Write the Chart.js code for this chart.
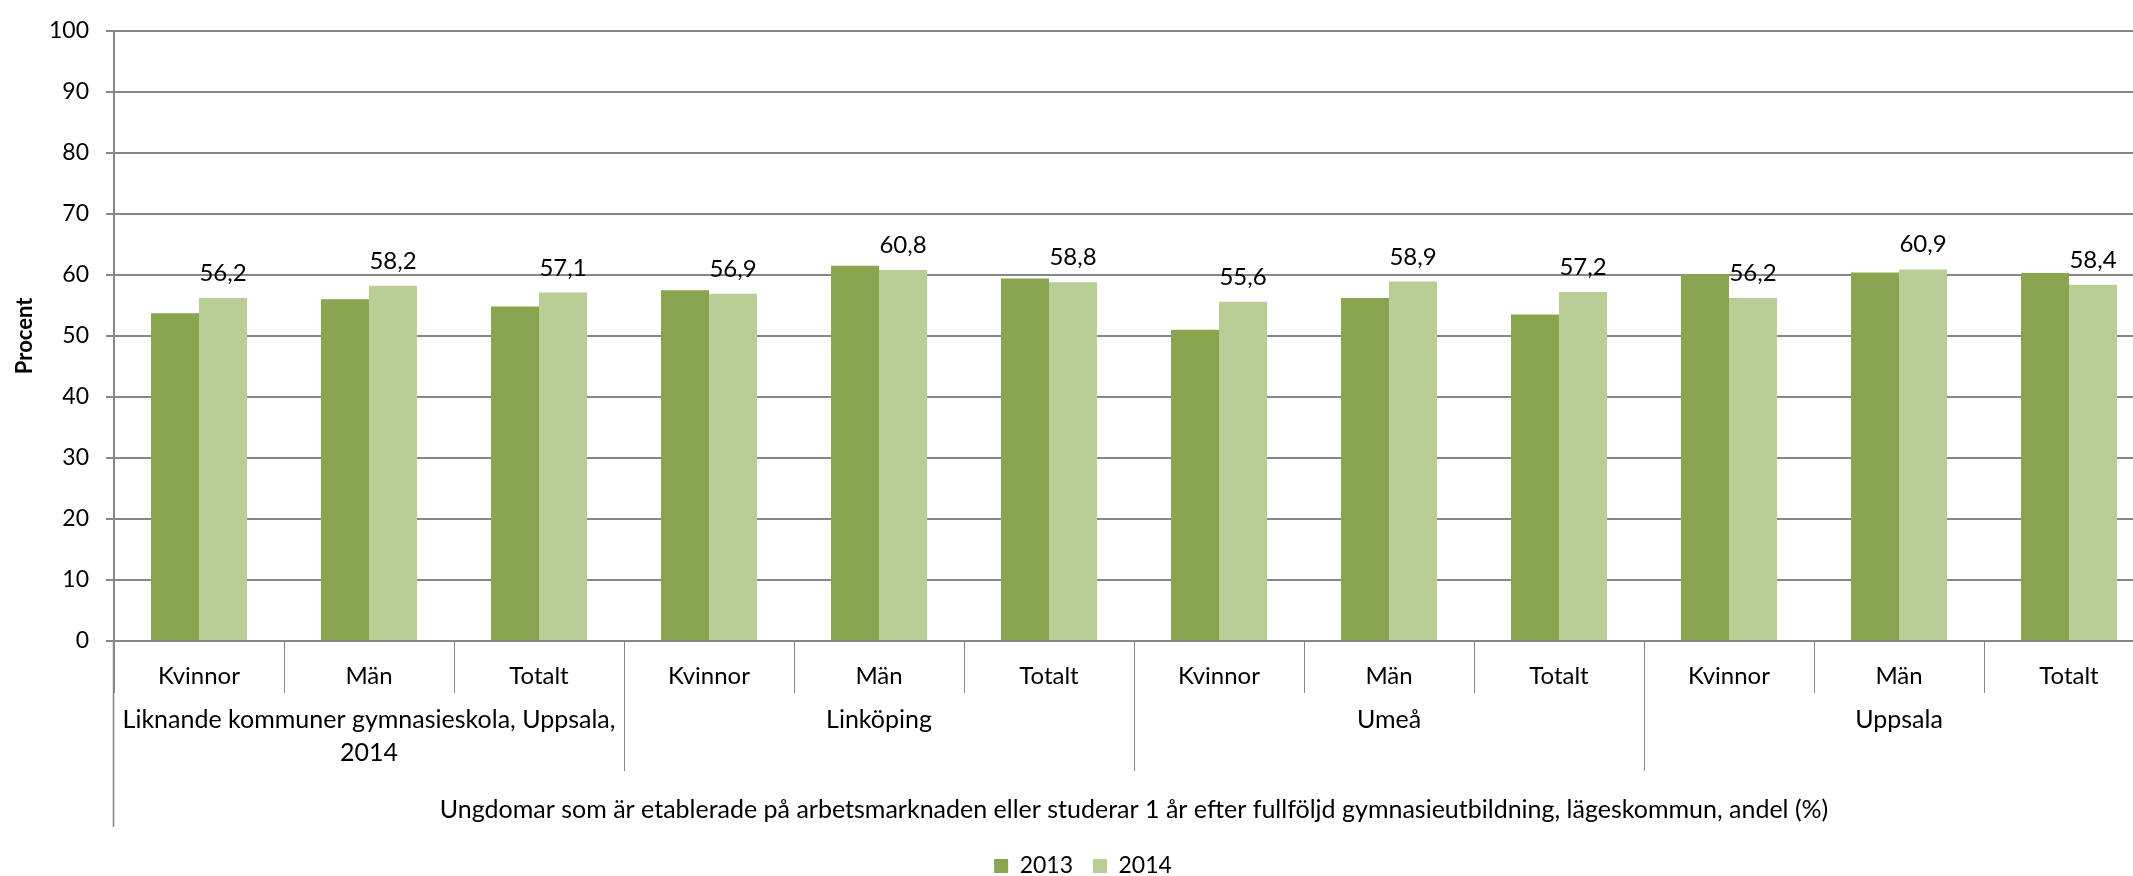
<!DOCTYPE html>
<html>
<head>
<meta charset="utf-8">
<script src="https://cdn.jsdelivr.net/npm/chart.js@4.4.1/dist/chart.umd.min.js"></script>
<style>
  html, body { margin: 0; padding: 0; background: #fff; overflow: hidden; }
  #wrap { width: 2166px; height: 876px; }
</style>
</head>
<body>
<div id="wrap"><canvas id="graph" width="2166" height="876"></canvas></div>
<script>
// categories: sub level (kön) and group level (kommun)
var subLabels = ['Kvinnor', 'Män', 'Totalt', 'Kvinnor', 'Män', 'Totalt',
                 'Kvinnor', 'Män', 'Totalt', 'Kvinnor', 'Män', 'Totalt'];
var groupLabels = [
  ['Liknande kommuner gymnasieskola, Uppsala,', '2014'],
  ['Linköping'],
  ['Umeå'],
  ['Uppsala']
];
var seriesNames = ['2013', '2014'];
var values2013 = [53.7, 56.0, 54.8, 57.5, 61.5, 59.4, 51.0, 56.2, 53.5, 60.1, 60.4, 60.3];
var values2014 = [56.2, 58.2, 57.1, 56.9, 60.8, 58.8, 55.6, 58.9, 57.2, 56.2, 60.9, 58.4];
var yMin = 0, yMax = 100, yStep = 10;
var xTitle = 'Ungdomar som är etablerade på arbetsmarknaden eller studerar 1 år efter fullföljd gymnasieutbildning, lägeskommun, andel (%)';
var yTitle = 'Procent';

var gridColor = '#878787';
var textFont = { family: 'Lato', size: 23 };

function fmt(v) {
  return v.toFixed(1).replace('.', ',');
}

// value labels above the 2014 bars
var valueLabels = {
  id: 'valueLabels',
  afterDatasetsDraw: function(chart) {
    var ctx = chart.ctx;
    var meta = chart.getDatasetMeta(1);
    ctx.save();
    ctx.font = '24px Lato';
    ctx.fillStyle = '#000';
    ctx.textAlign = 'center';
    ctx.textBaseline = 'alphabetic';
    meta.data.forEach(function(bar, i) {
      ctx.fillText(fmt(values2014[i]), bar.x, bar.y - 17);
    });
    ctx.restore();
  }
};

// second level of the x axis: group separators and group names
var groupAxis = {
  id: 'groupAxis',
  afterDraw: function(chart) {
    var ctx = chart.ctx;
    var x = chart.scales.x;
    var area = chart.chartArea;
    var bottom = area.bottom;
    ctx.save();
    ctx.strokeStyle = gridColor;
    ctx.lineWidth = 1.5;
    ctx.beginPath();
    ctx.moveTo(area.left - 0.5, bottom);
    ctx.lineTo(area.left - 0.5, bottom + 186);
    ctx.stroke();

    ctx.lineWidth = 1;
    for (var g = 1; g < groupLabels.length; g++) {
      var px = Math.round((x.getPixelForValue(g * 3 - 1) + x.getPixelForValue(g * 3)) / 2) + 0.5;
      ctx.beginPath();
      ctx.moveTo(px, bottom);
      ctx.lineTo(px, bottom + 130);
      ctx.stroke();
    }

    ctx.font = '25px Lato';
    ctx.fillStyle = '#000';
    ctx.textAlign = 'center';
    ctx.textBaseline = 'middle';
    groupLabels.forEach(function(lines, g) {
      var cx = (x.getPixelForValue(g * 3) + x.getPixelForValue(g * 3 + 2)) / 2;
      lines.forEach(function(t, j) {
        ctx.fillText(t, cx, bottom + 79 + j * 33);
      });
    });
    ctx.restore();
  }
};

var data = {
  labels: subLabels,
  datasets: [{
    label: seriesNames[0],
    data: values2013,
    backgroundColor: '#8aa550',
    barPercentage: 1,
    categoryPercentage: 0.565
  }, {
    label: seriesNames[1],
    data: values2014,
    backgroundColor: '#b9ce96',
    barPercentage: 1,
    categoryPercentage: 0.565
  }]
};

var myChart = new Chart(document.getElementById('graph').getContext('2d'), {
  type: 'bar',
  data: data,
  options: {
    responsive: false,
    animation: false,
    layout: { padding: { top: 22, right: 12, bottom: -11.5, left: 12 } },
    plugins: {
      legend: {
        position: 'bottom',
        labels: { boxWidth: 14, boxHeight: 14, padding: 20, font: textFont, color: '#000' }
      },
      tooltip: { enabled: false }
    },
    scales: {
      x: {
        grid: { drawOnChartArea: false, offset: true, tickLength: 52, color: gridColor, lineWidth: 1 },
        border: { color: gridColor, width: 2 },
        ticks: { padding: -31, font: { family: 'Lato', size: 24 }, color: '#000', maxRotation: 0, autoSkip: false },
        title: { display: true, text: xTitle, font: { family: 'Lato', size: 25 }, color: '#000', padding: { top: 4, bottom: 10 } },
        afterFit: function(s) { s.height = 193.5; }
      },
      y: {
        min: yMin,
        max: yMax,
        ticks: { stepSize: yStep, padding: 17, font: textFont, color: '#000' },
        grid: { color: gridColor, lineWidth: 2, tickLength: 8 },
        border: { color: gridColor, width: 2 },
        title: { display: true, text: yTitle, font: { family: 'Lato', size: 22, weight: 'bold' }, color: '#000', padding: { top: 0, bottom: 0 } },
        afterFit: function(s) { s.width = 102; }
      }
    }
  },
  plugins: [valueLabels, groupAxis]
});
</script>
</body>
</html>
